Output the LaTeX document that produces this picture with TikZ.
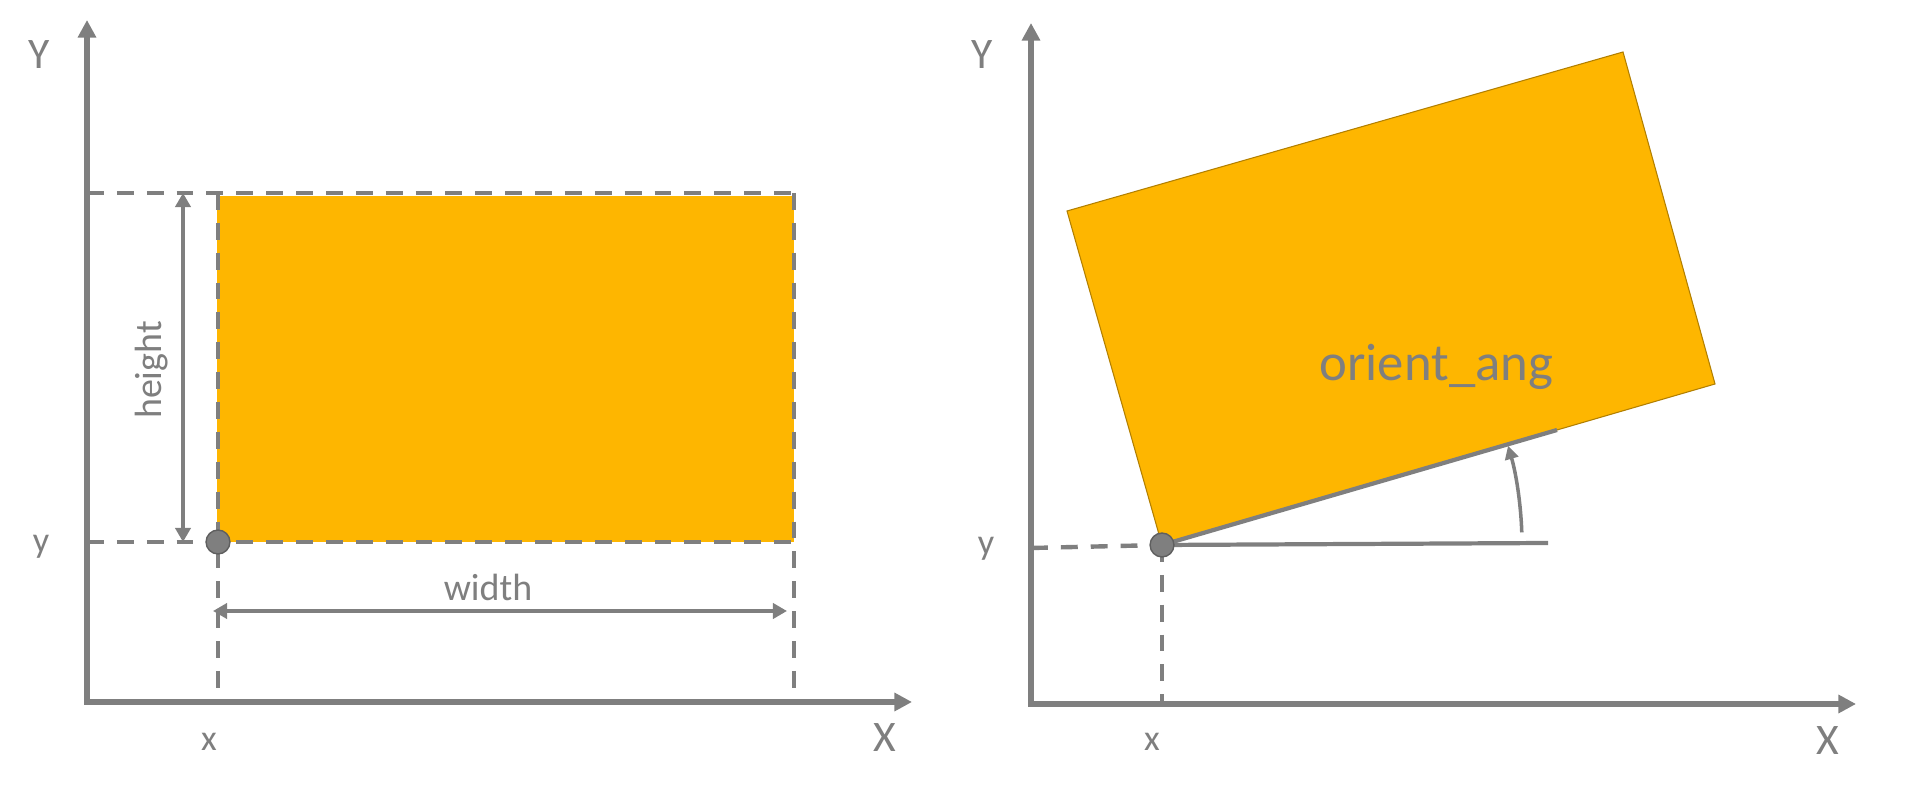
\documentclass[tikz,border=0pt]{standalone}
\usepackage{fontspec}
\setmainfont{Carlito}
\usetikzlibrary{arrows.meta}
\definecolor{axisgray}{HTML}{7F7F7F}
\definecolor{boxorange}{RGB}{254,182,0}

\begin{document}
\begin{tikzpicture}[x=0.1mm,y=0.1mm,
  axisline/.style={line width=1.45pt,draw=axisgray,{Triangle[length=5pt,width=5pt]}-{Triangle[length=5pt,width=5pt]}},
  guide/.style={line width=1.25pt,draw=axisgray,dash pattern=on 4.8pt off 3.7pt},
  dimline/.style={line width=1.1pt,draw=axisgray,{Triangle[length=4pt,width=4.3pt]}-{Triangle[length=4pt,width=4.3pt]}},
  lbl/.style={text=axisgray,inner sep=0pt},
  big/.style={lbl,font=\fontsize{12.4}{14}\selectfont},
  small/.style={lbl,font=\fontsize{10.3}{12}\selectfont},
  refdot/.style={circle,fill=axisgray,draw=axisgray!75!black,line width=0.4pt,minimum size=6.8pt,inner sep=0pt}]
\useasboundingbox (0,0) rectangle (1910,805);

% left: plain box
\coordinate (O1) at (87,103);
\coordinate (P1) at (218,263);
\fill[boxorange] (217,263) rectangle (794,609);
\foreach \y in {612,263}
{
    \draw[guide] (87,\y)--(794,\y);
}
\foreach \x in {218,794}
{
    \draw[guide] (\x,612)--(\x,103);
}
\draw[axisline] (87,785)--(O1)--(912,103);
\draw[dimline] (183,612)--(183,263);
\draw[dimline] (213,194)--(787,194);
\node[refdot] (dot1) at (P1) {};

\node[big] (Y1) at (39,750) {Y};
\node[big] (X1) at (885,67) {X};
\node[small] (y1) at (41,258) {y};
\node[small] (x1) at (209,63) {x};
\node[lbl,font=\fontsize{10.8}{13}\selectfont] (wd) at (488,218) {width};
\node[lbl,font=\fontsize{10.8}{13}\selectfont,rotate=90] (ht) at (152,435) {height};

% right: turned box
\coordinate (O2) at (1031,101);
\coordinate (A) at (1162,260);
\coordinate (B) at (1715,421);
\coordinate (C) at (1623,753);
\coordinate (D) at (1067,594);
\filldraw[fill=boxorange,draw=boxorange!70!black,line width=0.3pt] (A)--(B)--(C)--(D)--cycle;
\draw[guide] (1031,257)--(A);
\draw[guide] (A)--(1162,101);
\draw[axisline] (1031,782)--(O2)--(1856,101);
\draw[line width=1.2pt,axisgray] (A)--(1548,262);
\draw[line width=1.2pt,axisgray] (A)--(1557,375);
\draw[line width=1pt,axisgray,-{Triangle[length=3.8pt,width=3.8pt]}] ([shift={(2:360)}]A) arc[start angle=2,end angle=16,radius=360];
\node[refdot] (dot2) at (A) {};

\node[big] (Y2) at (982,750) {Y};
\node[big] (X2) at (1828,64) {X};
\node[small] (y2) at (986,256) {y};
\node[small] (x2) at (1152,63) {x};
\node[lbl,font=\fontsize{15}{18}\selectfont,anchor=base west] (ang) at (1319,424) {orient\_ang};
\end{tikzpicture}
\end{document}
